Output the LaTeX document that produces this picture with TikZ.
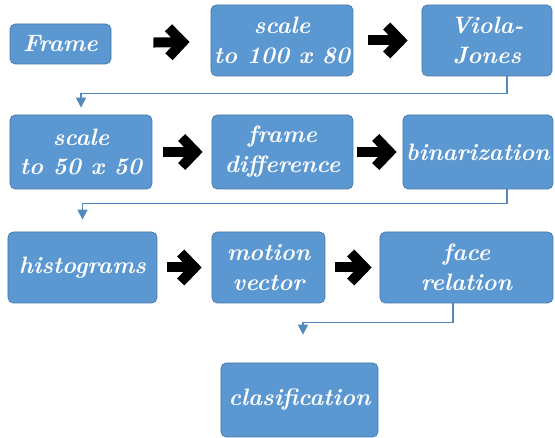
\documentclass[tikz,border=0pt]{standalone}
\usetikzlibrary{arrows.meta}
\definecolor{boxBlue}{RGB}{91,152,210}
\definecolor{boxEdge}{RGB}{70,120,170}

\begin{document}
\begin{tikzpicture}[
	    block/.style={rectangle, draw=boxEdge, fill=boxBlue, text=white, align=center, rounded corners=3pt, inner sep=0pt, font=\fontsize{13.5}{17}\selectfont\bfseries\itshape},
	    bigarrow/.style={draw=black, line width=0.2cm, -{Straight Barb[length=0.28cm, width=0.58cm]}},
	    link/.style={draw=boxBlue!90!black, line width=0.6pt, -{Triangle[length=0.2cm, width=0.2cm]}}]
	    
	    \useasboundingbox (0,0) rectangle (11.1,-8.76);
	    
	    % first row
	    \node [block, minimum width=2.02cm, minimum height=0.8cm] (frame) at (1.21,-0.88) {Frame};
	    \node [block, minimum width=2.84cm, minimum height=1.42cm] (scalea) at (5.64,-0.81) {scale\\to 100 x 80};
	    \node [block, minimum width=2.6cm, minimum height=1.42cm] (viola) at (9.74,-0.81) {Viola-\\Jones};
	    
	    % second row
	    \node [block, minimum width=2.84cm, minimum height=1.48cm] (scaleb) at (1.62,-3.04) {scale\\to 50 x 50};
	    \node [block, minimum width=2.82cm, minimum height=1.48cm] (diff) at (5.65,-3.04) {frame\\difference};
	    \node [block, minimum width=3.0cm, minimum height=1.48cm] (binar) at (9.56,-3.04) {binarization};
	    
	    % third row
	    \node [block, minimum width=2.98cm, minimum height=1.42cm] (histo) at (1.65,-5.35) {histograms};
	    \node [block, minimum width=2.26cm, minimum height=1.42cm] (motion) at (5.37,-5.35) {motion\\vector};
	    \node [block, minimum width=3.46cm, minimum height=1.42cm] (face) at (9.33,-5.35) {face\\relation};
	    
	    \node [block, minimum width=3.14cm, minimum height=1.48cm] (clasif) at (5.99,-8.0) {clasification};
	    
	    % arrows inside each row
	    \path [bigarrow, shorten <=0.84cm, shorten >=0.42cm] (frame) -- (scalea);
	    \path [bigarrow, shorten <=0.3cm, shorten >=0.28cm] (scalea) -- (viola);
	    \path [bigarrow, shorten <=0.22cm, shorten >=0.18cm] (scaleb) -- (diff);
	    \path [bigarrow, shorten <=0.08cm, shorten >=0.12cm] (diff) -- (binar);
	    \path [bigarrow, shorten <=0.2cm, shorten >=0.2cm] (histo) -- (motion);
	    \path [bigarrow, shorten <=0.2cm, shorten >=0.16cm] (motion) -- (face);
	    
	    % links between rows
	    \path [link] ([xshift=0.4cm]viola.south) -- ++(0,-0.34) -| ([yshift=0.14cm]scaleb.north);
	    \path [link] ([xshift=0.58cm]binar.south) -- ++(0,-0.28) -| ([yshift=0.24cm]histo.north);
	    \path [link] ([xshift=-0.27cm]face.south) -- ++(0,-0.38) -| ([xshift=0.07cm, yshift=0.56cm]clasif.north);
	\end{tikzpicture}
\end{document}
